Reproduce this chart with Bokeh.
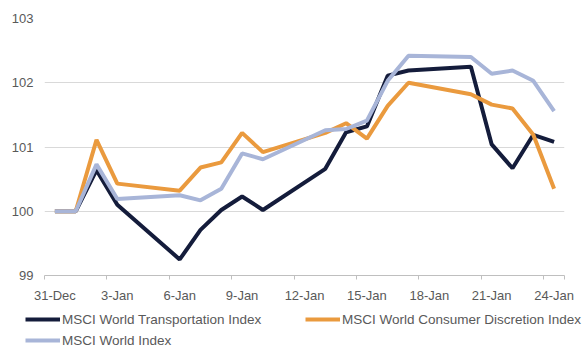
import pandas as pd
from bokeh.plotting import figure
from bokeh.layouts import column
from bokeh.models import FixedTicker, Legend, LegendItem, ColumnDataSource
from bokeh.embed import file_html
from bokeh.resources import INLINE

# ---- data ----
dates = ["2019-12-31", "2020-01-01", "2020-01-02", "2020-01-03", "2020-01-06",
         "2020-01-07", "2020-01-08", "2020-01-09", "2020-01-10", "2020-01-13",
         "2020-01-14", "2020-01-15", "2020-01-16", "2020-01-17", "2020-01-20",
         "2020-01-21", "2020-01-22", "2020-01-23", "2020-01-24"]
transport = [100.0, 100.0, 100.64, 100.10, 99.25, 99.71, 100.02, 100.23, 100.02, 100.66,
             101.23, 101.32, 102.11, 102.19, 102.25, 101.04, 100.67, 101.19, 101.08]
consumer = [100.0, 100.0, 101.11, 100.43, 100.32, 100.68, 100.76, 101.22, 100.92, 101.22,
            101.37, 101.13, 101.64, 102.00, 101.82, 101.66, 101.60, 101.19, 100.35]
world = [100.0, 100.0, 100.73, 100.19, 100.25, 100.17, 100.35, 100.90, 100.81, 101.26,
         101.28, 101.41, 102.03, 102.42, 102.40, 102.14, 102.19, 102.03, 101.56]
series_names = ["MSCI World Transportation Index", "MSCI World Consumer Discretion Index",
                "MSCI World Index"]
tick_labels = ["31-Dec", "3-Jan", "6-Jan", "9-Jan", "12-Jan", "15-Jan", "18-Jan", "21-Jan", "24-Jan"]
y_ticks = [99, 100, 101, 102, 103]

colors = ["#141C3B", "#EA9A3E", "#A8B5D8"]
FONT = "Liberation Sans"
TXT = "#595959"

d = pd.to_datetime(dates)
start = d[0]
days = [(x - start).days for x in d]
n_days = days[-1] + 1

src = ColumnDataSource(dict(x=days, t=transport, c=consumer, w=world))

p = figure(width=582, height=305, output_backend="svg", toolbar_location=None,
           x_range=(-0.5, n_days - 0.5), y_range=(99, 103),
           min_border_left=44, min_border_right=18, min_border_top=18, min_border_bottom=26)
p.outline_line_color = None
p.background_fill_color = "white"
p.border_fill_color = "white"
p.frame_align = False

p.line("x", "t", source=src, line_color=colors[0], line_width=4)
p.line("x", "c", source=src, line_color=colors[1], line_width=4)
p.line("x", "w", source=src, line_color=colors[2], line_width=4)

# x axis: labels centred in day bands, ticks on band edges
label_pos = list(range(0, n_days, 3))
p.xaxis.ticker = FixedTicker(ticks=label_pos, minor_ticks=[x - 0.5 for x in label_pos] + [n_days - 0.5])
p.xaxis.major_label_overrides = {k: v for k, v in zip(label_pos, tick_labels)}
p.xaxis.major_tick_line_color = None
p.xaxis.major_tick_out = 0
p.xaxis.major_tick_in = 0
p.xaxis.minor_tick_line_color = "#BFBFBF"
p.xaxis.minor_tick_out = 4
p.xaxis.minor_tick_in = 0
p.xaxis.axis_line_color = "#BFBFBF"
p.xaxis.major_label_standoff = 8
p.xaxis.major_label_text_font = FONT
p.xaxis.major_label_text_font_size = "13px"
p.xaxis.major_label_text_color = TXT
p.xgrid.grid_line_color = None

p.yaxis.ticker = FixedTicker(ticks=y_ticks)
p.yaxis.axis_line_color = None
p.yaxis.major_tick_line_color = None
p.yaxis.minor_tick_line_color = None
p.yaxis.major_tick_out = 0
p.yaxis.major_label_standoff = 11
p.yaxis.major_label_text_font = FONT
p.yaxis.major_label_text_font_size = "13px"
p.yaxis.major_label_text_color = TXT
p.ygrid.grid_line_color = "#D9D9D9"
p.ygrid.grid_line_width = 1

# legend strip below the chart (its sample lines sit outside the visible range)
lg = figure(width=582, height=55, output_backend="svg", toolbar_location=None,
            x_range=(0, 582), y_range=(0, 55), x_axis_location=None, y_axis_location=None,
            min_border_left=0, min_border_right=0, min_border_top=0, min_border_bottom=0)
lg.frame_align = False
lg.grid.grid_line_color = None
lg.outline_line_color = None
lg.background_fill_color = "white"
lg.border_fill_color = "white"
dummies = [lg.line([-50, -40], [-50, -40], line_color=c, line_width=4) for c in colors]

items = [LegendItem(label=n, renderers=[r]) for n, r in zip(series_names, dummies)]
# column-major fill: first column holds items 1 and 3, second column item 2
legend = Legend(items=[items[0], items[2], items[1]], location=(25, 10), nrows=2)
legend.border_line_color = None
legend.background_fill_alpha = 0
legend.padding = 0
legend.margin = 0
legend.spacing = 1
legend.glyph_width = 35
legend.glyph_height = 20
legend.label_height = 20
legend.label_width = 242
legend.label_standoff = 2
legend.label_text_font = FONT
legend.label_text_font_size = "13.5px"
legend.label_text_color = TXT
lg.add_layout(legend, "center")

layout = column(p, lg, spacing=0)
open("out.html", "w").write(file_html(layout, INLINE))
